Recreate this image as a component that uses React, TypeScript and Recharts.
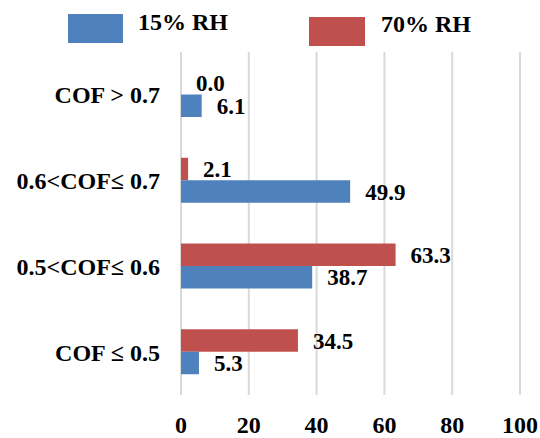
import { BarChart, Bar, XAxis, YAxis, CartesianGrid, LabelList } from 'recharts';

const categories = ['COF > 0.7', '0.6<COF≤ 0.7', '0.5<COF≤ 0.6', 'COF ≤ 0.5'];
const rh15 = [6.1, 49.9, 38.7, 5.3];
const rh70 = [0.0, 2.1, 63.3, 34.5];
const xTicks = [0, 20, 40, 60, 80, 100];

const BLUE = '#4f81bd';
const RED = '#c0504d';
const FONT = '"Liberation Serif", "DejaVu Serif", serif';

const data = categories.map((name, i) => ({ name, rh15: rh15[i], rh70: rh70[i] }));

const textStyle = { fontFamily: FONT, fontWeight: 700, fontSize: 24, fill: '#000' };
const labelStyle = { ...textStyle, fontSize: 23 };

const fmt = (v: any) => Number(v).toFixed(1);

const App = () => {
  return (
    <div style={{ position: 'absolute', left: 0, top: 0, width: 540, height: 438, background: '#fff' }}>
      <div style={{ position: 'absolute', left: 68, top: 14, width: 55, height: 29, background: BLUE }} />
      <div
        style={{
          position: 'absolute', left: 138, top: 8, lineHeight: '28px',
          fontFamily: FONT, fontWeight: 700, fontSize: 24,
        }}
      >
        15% RH
      </div>
      <div style={{ position: 'absolute', left: 309, top: 17, width: 56, height: 29, background: RED }} />
      <div
        style={{
          position: 'absolute', left: 381, top: 10, lineHeight: '28px',
          fontFamily: FONT, fontWeight: 700, fontSize: 24,
        }}
      >
        70% RH
      </div>

      <BarChart
        width={540}
        height={438}
        data={data}
        layout="vertical"
        margin={{ top: 52, right: 20, left: 0, bottom: 0 }}
        barGap={0}
        barSize={22.5}
        style={{ position: 'absolute', left: 0, top: 0 }}
      >
        <CartesianGrid horizontal={false} stroke="#d9d9d9" strokeWidth={2} />
        <XAxis
          type="number"
          domain={[0, 100]}
          ticks={xTicks}
          axisLine={false}
          tickLine={false}
          height={43}
          tickMargin={15}
          tick={textStyle}
        />
        <YAxis
          type="category"
          dataKey="name"
          width={181}
          axisLine={false}
          tickLine={false}
          tickMargin={15}
          tick={textStyle}
        />
        <Bar dataKey="rh70" name="70% RH" fill={RED} minPointSize={0.01} isAnimationActive={false}>
          <LabelList dataKey="rh70" position="right" offset={15} formatter={fmt} style={labelStyle} />
        </Bar>
        <Bar dataKey="rh15" name="15% RH" fill={BLUE} isAnimationActive={false}>
          <LabelList dataKey="rh15" position="right" offset={15} formatter={fmt} style={labelStyle} />
        </Bar>
      </BarChart>
    </div>
  );
};

export default App;
